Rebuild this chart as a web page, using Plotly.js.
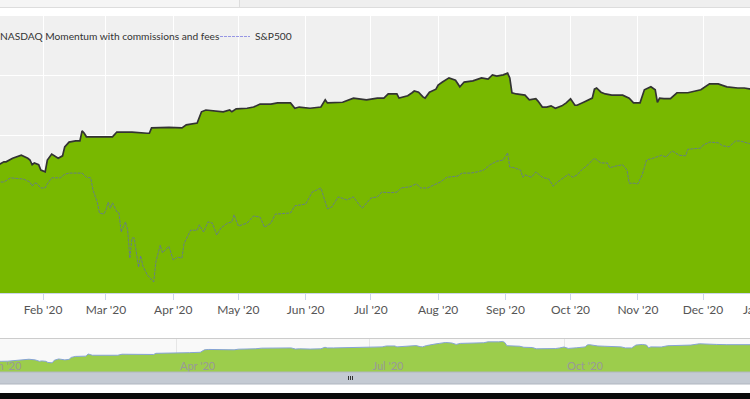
<!DOCTYPE html>
<html><head><meta charset="utf-8">
<script src="https://cdn.plot.ly/plotly-3.0.1.min.js"></script>
<style>
html,body{margin:0;padding:0;width:750px;height:399px;overflow:hidden;background:#fff}
#chart{position:absolute;left:-60px;top:0;width:880px;height:399px}
</style>
</head><body><div id="chart"></div>
<script>
// ---- data ----
const seriesNames = ['NASDAQ Momentum with commissions and fees', 'S&P500'];

const strategyDates = ['2020-01-02','2020-01-06','2020-01-09','2020-01-12','2020-01-14','2020-01-15','2020-01-18','2020-01-20','2020-01-22','2020-01-25','2020-01-26','2020-01-27','2020-01-28','2020-01-30','2020-01-31','2020-02-02','2020-02-03','2020-02-05','2020-02-06','2020-02-08','2020-02-10','2020-02-11','2020-02-13','2020-02-16','2020-02-18','2020-02-19','2020-02-20','2020-02-21','2020-02-27','2020-03-04','2020-03-06','2020-03-13','2020-03-20','2020-03-21','2020-03-22','2020-03-26','2020-03-30','2020-04-05','2020-04-07','2020-04-12','2020-04-13','2020-04-14','2020-04-16','2020-04-21','2020-04-24','2020-04-27','2020-04-28','2020-04-30','2020-05-05','2020-05-08','2020-05-11','2020-05-16','2020-05-19','2020-05-25','2020-05-27','2020-05-29','2020-06-03','2020-06-08','2020-06-10','2020-06-11','2020-06-14','2020-06-18','2020-06-23','2020-06-25','2020-06-29','2020-07-04','2020-07-07','2020-07-09','2020-07-13','2020-07-14','2020-07-18','2020-07-20','2020-07-21','2020-07-23','2020-07-25','2020-07-26','2020-07-28','2020-07-31','2020-08-01','2020-08-03','2020-08-05','2020-08-06','2020-08-09','2020-08-11','2020-08-13','2020-08-17','2020-08-21','2020-08-24','2020-08-26','2020-08-28','2020-08-31','2020-09-02','2020-09-03','2020-09-04','2020-09-06','2020-09-10','2020-09-12','2020-09-15','2020-09-16','2020-09-18','2020-09-20','2020-09-22','2020-09-24','2020-09-27','2020-09-29','2020-10-01','2020-10-03','2020-10-04','2020-10-07','2020-10-11','2020-10-12','2020-10-13','2020-10-15','2020-10-17','2020-10-20','2020-10-25','2020-10-28','2020-10-30','2020-11-02','2020-11-04','2020-11-07','2020-11-09','2020-11-10','2020-11-11','2020-11-13','2020-11-16','2020-11-19','2020-11-24','2020-11-30','2020-12-04','2020-12-08','2020-12-12','2020-12-17','2020-12-20','2020-12-23','2020-12-28','2020-12-31'];
const strategyValues = [25.0,25.3,25.0,25.1,25.5,25.5,26.1,26.3,26.6,26.1,25.8,25.0,25.3,25.0,24.1,23.8,25.8,26.8,26.6,26.1,26.5,28.0,28.8,29.0,29.0,30.7,30.3,29.7,29.7,29.7,30.5,30.5,30.3,30.3,31.2,31.3,31.3,31.2,31.7,32.0,33.0,33.9,34.2,34.0,33.9,34.2,33.9,34.4,34.5,34.7,35.2,35.2,35.4,35.4,34.5,34.7,34.5,34.7,35.9,35.4,35.4,35.5,36.2,36.1,35.9,36.2,36.2,36.9,36.9,36.2,36.6,37.1,37.4,37.2,36.4,36.2,37.2,37.7,38.4,38.9,39.4,39.6,39.2,38.1,38.9,39.1,39.6,39.4,40.1,39.9,40.1,40.4,39.6,37.1,36.9,36.7,35.9,36.1,35.7,34.7,34.7,34.9,34.5,34.9,35.4,36.1,35.0,35.0,35.5,36.2,37.7,37.9,37.2,36.9,36.7,36.7,36.2,35.4,35.4,37.6,38.1,37.6,35.5,36.2,36.1,36.1,37.1,37.1,37.6,38.6,38.6,38.1,37.9,37.9,37.7,37.9,37.9];

const spDates = ['2020-01-02','2020-01-06','2020-01-09','2020-01-12','2020-01-14','2020-01-17','2020-01-23','2020-01-25','2020-01-26','2020-01-27','2020-01-28','2020-01-29','2020-01-31','2020-02-02','2020-02-03','2020-02-05','2020-02-07','2020-02-09','2020-02-11','2020-02-13','2020-02-19','2020-02-21','2020-02-23','2020-02-24','2020-02-26','2020-02-27','2020-02-29','2020-03-01','2020-03-02','2020-03-03','2020-03-04','2020-03-06','2020-03-07','2020-03-08','2020-03-10','2020-03-11','2020-03-12','2020-03-13','2020-03-14','2020-03-16','2020-03-17','2020-03-18','2020-03-20','2020-03-21','2020-03-23','2020-03-24','2020-03-25','2020-03-26','2020-03-27','2020-03-30','2020-04-01','2020-04-03','2020-04-05','2020-04-06','2020-04-09','2020-04-12','2020-04-13','2020-04-15','2020-04-17','2020-04-19','2020-04-21','2020-04-23','2020-04-26','2020-04-28','2020-04-29','2020-05-01','2020-05-05','2020-05-08','2020-05-11','2020-05-13','2020-05-16','2020-05-18','2020-05-25','2020-05-27','2020-06-01','2020-06-04','2020-06-08','2020-06-11','2020-06-13','2020-06-16','2020-06-20','2020-06-23','2020-06-25','2020-06-27','2020-07-01','2020-07-04','2020-07-06','2020-07-10','2020-07-13','2020-07-15','2020-07-19','2020-07-22','2020-07-24','2020-07-27','2020-07-30','2020-08-02','2020-08-05','2020-08-10','2020-08-12','2020-08-16','2020-08-19','2020-08-22','2020-08-25','2020-08-28','2020-08-31','2020-09-02','2020-09-03','2020-09-05','2020-09-08','2020-09-09','2020-09-10','2020-09-13','2020-09-15','2020-09-18','2020-09-21','2020-09-23','2020-09-25','2020-09-28','2020-09-30','2020-10-02','2020-10-04','2020-10-06','2020-10-09','2020-10-12','2020-10-15','2020-10-18','2020-10-19','2020-10-22','2020-10-25','2020-10-27','2020-10-28','2020-10-30','2020-11-01','2020-11-03','2020-11-05','2020-11-08','2020-11-10','2020-11-12','2020-11-14','2020-11-16','2020-11-17','2020-11-20','2020-11-23','2020-11-24','2020-11-30','2020-12-01','2020-12-04','2020-12-08','2020-12-10','2020-12-13','2020-12-16','2020-12-18','2020-12-21','2020-12-23','2020-12-28','2020-12-31'];
const spValues = [22.3,21.9,22.4,22.1,22.1,22.8,22.6,22.3,22.1,21.4,21.9,21.9,21.1,21.1,21.8,22.8,22.8,22.8,23.4,23.6,23.6,22.9,22.8,20.8,18.7,16.9,16.7,17.4,18.7,17.7,18.6,17.1,16.9,13.7,15.4,14.0,9.3,12.7,12.7,7.8,9.7,8.0,6.5,6.1,5.3,8.7,10.2,11.5,10.2,11.3,9.0,9.5,9.3,11.8,14.0,14.0,14.9,13.7,15.4,15.2,13.2,14.4,15.2,15.4,16.6,14.7,15.2,16.4,16.2,14.5,15.2,16.7,16.9,18.1,18.4,20.4,21.1,17.6,17.9,19.6,19.1,19.6,18.6,17.7,19.4,19.6,20.4,20.3,20.4,21.1,21.3,21.8,21.1,21.1,21.6,22.1,22.9,23.1,23.6,23.6,23.8,24.1,25.0,25.6,25.8,27.0,24.6,24.5,24.1,22.9,23.3,22.9,23.8,22.9,22.6,21.4,22.1,22.9,23.4,22.9,23.3,24.1,25.0,26.1,25.3,25.3,24.5,24.8,25.0,24.1,21.9,21.9,21.8,23.3,25.8,26.1,26.3,26.6,26.3,27.1,27.3,26.6,26.5,27.6,27.8,28.3,28.8,28.7,28.2,28.0,29.0,29.0,28.7,28.5,28.9,29.0];

const monthTicks = ['2020-02-01','2020-03-01','2020-04-01','2020-05-01','2020-06-01','2020-07-01','2020-08-01','2020-09-01','2020-10-01','2020-11-01','2020-12-01'];
const monthLabels = ["Feb '20","Mar '20","Apr '20","May '20","Jun '20","Jul '20","Aug '20","Sep '20","Oct '20","Nov '20","Dec '20"];
const lastMonthLabel = "Jan '21";
const navTicks = ['2020-01-01','2020-04-01','2020-07-01','2020-10-01'];
const navLabels = ["Jan '20","Apr '20","Jul '20","Oct '20"];

// ---- geometry helpers (page pixels -> paper fractions) ----
const W = 880, H = 399, OFF = 60;
const fx = p => (p + OFF) / W;
const fy = p => (H - p) / H;

const FONT = 'Lato, "Open Sans", sans-serif';

const traces = [
  {x: strategyDates, y: strategyValues, type: 'scatter', mode: 'lines', name: seriesNames[0],
   line: {color: '#333333', width: 1.7}, fill: 'tozeroy', fillcolor: '#78b800', xaxis: 'x', yaxis: 'y'},
  {x: spDates, y: spValues, type: 'scatter', mode: 'lines', name: seriesNames[1],
   line: {color: 'rgba(90,90,220,0.6)', width: 1, dash: '3px,1px'}, xaxis: 'x', yaxis: 'y'},
  {x: strategyDates, y: strategyValues, type: 'scatter', mode: 'lines', showlegend: false,
   line: {color: '#86a3d6', width: 1}, fill: 'tozeroy', fillcolor: '#9ccd4c', xaxis: 'x2', yaxis: 'y2'}
];

const shapes = [
  // page strip above the chart
  {type:'rect', xref:'paper', yref:'paper', x0:fx(-60), x1:fx(239), y0:fy(7.5), y1:fy(0), fillcolor:'#f5f5f5', line:{width:0}},
  {type:'rect', xref:'paper', yref:'paper', x0:fx(239), x1:fx(820), y0:fy(7.5), y1:fy(0), fillcolor:'#efefef', line:{width:0}},
  {type:'line', xref:'paper', yref:'paper', x0:fx(-60), x1:fx(820), y0:fy(7.5), y1:fy(7.5), line:{color:'#dddddd', width:1}},
  {type:'line', xref:'paper', yref:'paper', x0:fx(239.5), x1:fx(239.5), y0:fy(0), y1:fy(7.5), line:{color:'#dddddd', width:1}},
  // navigator background and outline
  {type:'rect', xref:'x2 domain', yref:'y2 domain', x0:-0.1, x1:1.1, y0:0, y1:1, fillcolor:'#f9f9f9', line:{width:0}, layer:'below'},
  {type:'line', xref:'paper', yref:'paper', x0:fx(-60), x1:fx(820), y0:fy(338.5), y1:fy(338.5), line:{color:'#cccccc', width:1}},
  // scrollbar
  {type:'rect', xref:'paper', yref:'paper', x0:fx(-60), x1:fx(820), y0:fy(384), y1:fy(372), fillcolor:'#c4cad3', line:{color:'#b0b6bf', width:1}},
  {type:'line', xref:'paper', yref:'paper', x0:fx(348.5), x1:fx(348.5), y0:fy(380), y1:fy(376), line:{color:'#333', width:1}},
  {type:'line', xref:'paper', yref:'paper', x0:fx(350.5), x1:fx(350.5), y0:fy(380), y1:fy(376), line:{color:'#333', width:1}},
  {type:'line', xref:'paper', yref:'paper', x0:fx(352.5), x1:fx(352.5), y0:fy(380), y1:fy(376), line:{color:'#333', width:1}},
  // dark page area below
  {type:'rect', xref:'paper', yref:'paper', x0:fx(-60), x1:fx(820), y0:fy(399), y1:fy(393), fillcolor:'#0a0a0a', line:{width:0}}
];

const layout = {
  width: W, height: H, margin: {l:0, r:0, t:0, b:0},
  paper_bgcolor: '#ffffff', plot_bgcolor: '#f0f0f0',
  font: {family: FONT, size: 12, color: '#555'},
  showlegend: true,
  legend: {orientation:'h', x: fx(-40), xanchor:'left', y: fy(22), yanchor:'top',
           entrywidth: 210, entrywidthmode: 'pixels',
           bgcolor:'rgba(0,0,0,0)', font:{family: FONT, size:10.2, color:'#333'}},
  hovermode: false,
  xaxis: {type:'date', domain:[fx(-24.3), fx(770.3)], range:['2020-01-01','2021-01-01'],
          tickvals: monthTicks, ticktext: monthLabels, ticks:'outside', ticklen:6, tickcolor:'#ccd6eb',
          showline:true, linecolor:'#ccd6eb', showgrid:true, gridcolor:'#ffffff', gridwidth:1,
          zeroline:false, tickfont:{family: FONT, size:12, color:'#555'}, anchor:'y', fixedrange:true},
  yaxis: {domain:[fy(293), fy(16)], range:[3.45, 50], tick0:0, dtick:10, showticklabels:false,
          showgrid:true, gridcolor:'#ffffff', zeroline:false, showline:false, anchor:'x', fixedrange:true},
  xaxis2: {type:'date', domain:[fx(-15.5), fx(756.5)], range:['2020-01-01','2020-12-31'],
           tickvals: navTicks, ticktext: navLabels, ticklabelposition:'inside right', ticks:'',
           ticklabelstandoff: -6, ticklabelshift: 3,
           showgrid:true, gridcolor:'#e6e6e6', showline:false, zeroline:false,
           tickfont:{family: FONT, size:11, color:'#999'}, anchor:'y2', fixedrange:true},
  yaxis2: {domain:[fy(372), fy(338.5)], range:[16.7, 42.7], showticklabels:false, showgrid:false,
           zeroline:false, showline:false, anchor:'x2', fixedrange:true},
  shapes: shapes,
  annotations: [
    {text: lastMonthLabel, xref:'paper', yref:'paper', x: fx(741), xanchor:'left', y: fy(309), yanchor:'middle',
     showarrow:false, font:{family: FONT, size:12, color:'#555'}}
  ]
};

Plotly.newPlot('chart', traces, layout, {staticPlot:true, displayModeBar:false});
</script>
</body></html>
